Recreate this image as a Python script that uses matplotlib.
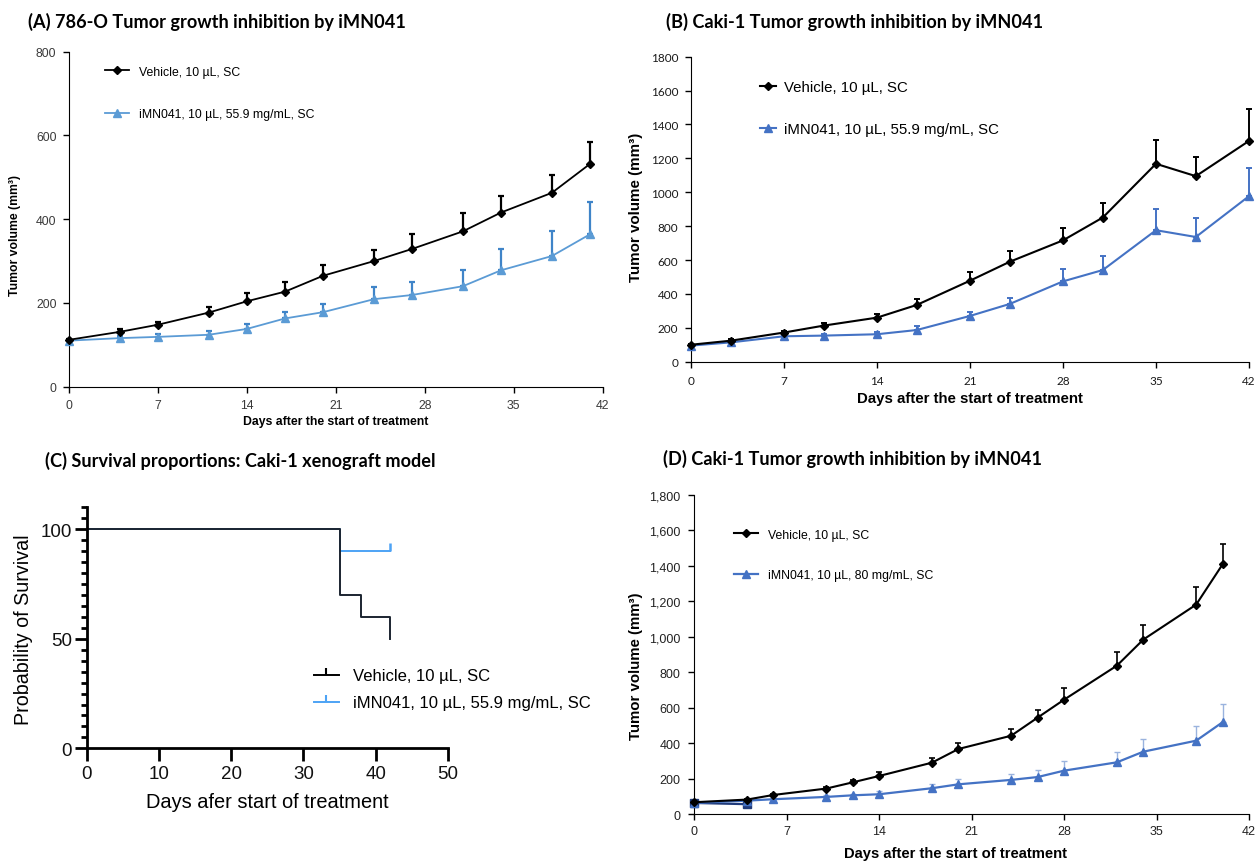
import matplotlib
matplotlib.use('Agg')
import matplotlib.pyplot as plt
import matplotlib.ticker as mticker
from matplotlib.lines import Line2D

# ---------------- data ----------------
# Panel A: 786-O
days_A = [0, 4, 7, 11, 14, 17, 20, 24, 27, 31, 34, 38, 41]
veh_A = [112, 131, 148, 177, 204, 227, 265, 300, 329, 371, 416, 463, 532]
veh_A_err = [2, 7, 7, 14, 19, 22, 26, 27, 36, 43, 40, 43, 52]
imn_A = [110, 116, 119, 124, 138, 163, 178, 209, 219, 240, 278, 312, 364]
imn_A_err = [2, 4, 7, 9, 12, 16, 19, 29, 32, 39, 51, 60, 76]

# Panel B: Caki-1
days_B = [0, 3, 7, 10, 14, 17, 21, 24, 28, 31, 35, 38, 42]
veh_B = [100, 124, 172, 213, 260, 335, 478, 590, 716, 851, 1168, 1095, 1303]
veh_B_err = [5, 8, 10, 14, 22, 36, 49, 61, 71, 88, 138, 111, 191]
imn_B = [95, 114, 150, 154, 162, 187, 270, 341, 474, 541, 776, 736, 977]
imn_B_err = [4, 6, 10, 8, 16, 24, 24, 36, 73, 83, 126, 111, 164]

# Panel C: survival
surv_veh_t = [0, 35, 38, 42]
surv_veh = [100, 70, 60, 50]
surv_imn_t = [0, 35, 42]
surv_imn = [100, 90, 90]

# Panel D: Caki-1, 80 mg/mL
days_D = [0, 4, 6, 10, 12, 14, 18, 20, 24, 26, 28, 32, 34, 38, 40]
veh_D = [68, 83, 109, 145, 180, 216, 291, 368, 443, 545, 646, 838, 985, 1182, 1409]
veh_D_err = [3, 5, 8, 10, 12, 21, 27, 34, 40, 45, 64, 75, 80, 98, 113]
imn_D = [64, 77, 85, 98, 107, 113, 147, 169, 194, 210, 246, 293, 353, 415, 519]
imn_D_err = [3, 4, 6, 8, 10, 20, 22, 30, 33, 38, 53, 57, 72, 85, 103]
extra_D_days = [0, 4]
extra_D = [64, 57]

lab_veh = 'Vehicle, 10 µL, SC'
lab_imn = 'iMN041, 10 µL, 55.9 mg/mL, SC'
lab_imn80 = 'iMN041, 10 µL, 80 mg/mL, SC'
xticks_growth = [0, 7, 14, 21, 28, 35, 42]

# ---------------- figure ----------------
W, H = 1255, 862
fig = plt.figure(figsize=(W / 100, H / 100), dpi=100)

REG = ['Liberation Sans', 'DejaVu Sans']
CAL = ['Lato', 'DejaVu Sans']
TIT = ['Lato', 'DejaVu Sans']
TSIZE = 13.1


def px_axes(l, r, t, b):
    return fig.add_axes([l / W, 1 - b / H, (r - l) / W, (b - t) / H])


def fx(x):
    return x / W


def fy(y):
    return 1 - y / H


def growth(ax, x, y, e, color, ecolor, marker, ms, lw, elw):
    zeros = [0] * len(e)
    ax.errorbar(x, y, yerr=[zeros, e], color=color, ecolor=ecolor,
                marker=marker, ms=ms, lw=lw, elinewidth=elw, capsize=2.5,
                capthick=elw, mfc=color, mec=color, clip_on=False, zorder=3)
    return Line2D([0], [0], color=color, marker=marker, ms=ms, lw=lw,
                  mfc=color, mec=color)


def basic_axes(ax):
    ax.spines['top'].set_visible(False)
    ax.spines['right'].set_visible(False)


# ---------------- Panel A ----------------
axA = px_axes(69, 602.7, 52.7, 387.7)
basic_axes(axA)
axA.set_xlim(0, 42)
axA.set_ylim(0, 800)
axA.set_xticks(xticks_growth)
axA.set_yticks([0, 200, 400, 600, 800])
axA.tick_params(length=4, width=1, pad=5, labelsize=8.8, labelcolor='#3a3a3a')
for t in axA.get_xticklabels() + axA.get_yticklabels():
    t.set_family(REG)
hAi = growth(axA, days_A, imn_A, imn_A_err, '#5B9BD5', '#3F84C8', '^', 6, 1.3, 1.6)
hAv = growth(axA, days_A, veh_A, veh_A_err, 'black', 'black', 'D', 4.5, 1.3, 1.6)
axA.set_xlabel('Days after the start of treatment', fontsize=8.8, fontweight='bold',
               family=REG, va='center')
axA.xaxis.set_label_coords(fx(336), fy(422), transform=fig.transFigure)
axA.set_ylabel('Tumor volume (mm³)', fontsize=8.8, fontweight='bold', family=REG,
               va='center')
axA.yaxis.set_label_coords(fx(15), fy(236), transform=fig.transFigure)
axA.legend([hAv, hAi], [lab_veh, lab_imn], loc='center left', frameon=False,
           bbox_to_anchor=(fx(105), fy(94)), bbox_transform=fig.transFigure,
           borderpad=0, borderaxespad=0, numpoints=1, handlelength=1.95,
           handletextpad=0.8, labelspacing=2.5,
           prop={'family': REG, 'size': 8.8})
fig.text(fx(28), fy(22), '(A) 786-O Tumor growth inhibition by iMN041',
         fontsize=TSIZE, fontweight='bold', family=TIT, ha='left', va='center')

# ---------------- Panel B ----------------
axB = px_axes(690.9, 1249, 57.7, 362.7)
basic_axes(axB)
axB.set_xlim(0, 42)
axB.set_ylim(0, 1800)
axB.set_xticks(xticks_growth)
axB.set_yticks(range(0, 1801, 200))
axB.tick_params(length=4, width=1, pad=5, labelsize=8.5, labelcolor='#1a1a1a')
axB.tick_params(axis='x', pad=5.5)
for t in axB.get_xticklabels() + axB.get_yticklabels():
    t.set_family(CAL)
hBi = growth(axB, days_B, imn_B, imn_B_err, '#4472C4', '#4472C4', '^', 6, 1.5, 1.4)
hBv = growth(axB, days_B, veh_B, veh_B_err, 'black', 'black', 'D', 4.5, 1.5, 1.4)
axB.set_xlabel('Days after the start of treatment', fontsize=10.8, fontweight='bold',
               family=REG, va='center')
axB.xaxis.set_label_coords(fx(970), fy(399), transform=fig.transFigure)
axB.set_ylabel('Tumor volume (mm³)', fontsize=10.9, fontweight='bold', family=REG,
               va='center')
axB.yaxis.set_label_coords(fx(636), fy(207.5), transform=fig.transFigure)
axB.legend([hBv, hBi], [lab_veh, lab_imn], loc='center left', frameon=False,
           bbox_to_anchor=(fx(760), fy(109)), bbox_transform=fig.transFigure,
           borderpad=0, borderaxespad=0, numpoints=1, handlelength=1.05,
           handletextpad=0.55, labelspacing=1.87,
           prop={'family': REG, 'size': 10.8})
fig.text(fx(666), fy(22), '(B) Caki-1 Tumor growth inhibition by iMN041',
         fontsize=TSIZE, fontweight='bold', family=TIT, ha='left', va='center')

# ---------------- Panel C ----------------
axC = px_axes(86.6, 448, 508.4, 749.3)
basic_axes(axC)
axC.spines['left'].set_linewidth(2)
axC.spines['bottom'].set_linewidth(2)
axC.set_xlim(0, 50)
axC.set_ylim(0, 110)
axC.set_xticks([0, 10, 20, 30, 40, 50])
axC.set_yticks([0, 50, 100])
axC.yaxis.set_minor_locator(mticker.MultipleLocator(5))
axC.tick_params(which='major', length=9, width=2, labelsize=13.5, labelcolor='#111111')
axC.tick_params(axis='y', which='major', pad=1.5)
axC.tick_params(axis='x', which='major', pad=3)
axC.tick_params(axis='y', which='minor', length=4.5, width=2)
for t in axC.get_xticklabels() + axC.get_yticklabels():
    t.set_family(REG)
axC.step(surv_imn_t, surv_imn, where='post', color='#4DA3F5', lw=1.4, clip_on=False)
axC.plot([surv_imn_t[-1]], [surv_imn[-1]], marker=2, ms=6, mew=1.8,
         color='#4DA3F5', clip_on=False)
axC.step(surv_veh_t, surv_veh, where='post', color='#1b2430', lw=1.4, clip_on=False)
axC.set_xlabel('Days afer start of treatment', fontsize=14.4, family=REG, va='center')
axC.xaxis.set_label_coords(fx(267.5), fy(802.7), transform=fig.transFigure)
axC.set_ylabel('Probability of Survival', fontsize=14.2, family=REG, va='center')
axC.yaxis.set_label_coords(fx(23.7), fy(630), transform=fig.transFigure)
hC = [Line2D([0], [0], color='black', lw=1.4, marker=2, ms=5, mew=1.5),
      Line2D([0], [0], color='#4DA3F5', lw=1.4, marker=2, ms=5, mew=1.5)]
axC.legend(hC, [lab_veh, lab_imn], loc='center left', frameon=False,
           bbox_to_anchor=(fx(313.6), fy(690.5)), bbox_transform=fig.transFigure,
           borderpad=0, borderaxespad=0, numpoints=1, handlelength=1.5,
           handletextpad=0.85, labelspacing=0.72,
           prop={'family': REG, 'size': 12})
fig.text(fx(45), fy(461), '(C) Survival proportions: Caki-1 xenograft model',
         fontsize=TSIZE, fontweight='bold', family=TIT, ha='left', va='center')

# ---------------- Panel D ----------------
axD = px_axes(694.1, 1249, 496, 815.3)
basic_axes(axD)
axD.set_xlim(0, 42)
axD.set_ylim(0, 1800)
axD.set_xticks(xticks_growth)
axD.set_yticks(range(0, 1801, 200))
axD.yaxis.set_major_formatter(mticker.StrMethodFormatter('{x:,.0f}'))
axD.tick_params(length=4, width=1, pad=6, labelsize=9, labelcolor='#222222')
axD.tick_params(axis='x', pad=4)
for t in axD.get_xticklabels() + axD.get_yticklabels():
    t.set_family(REG)
hDi = growth(axD, days_D, imn_D, imn_D_err, '#4472C4', '#9AB3DE', '^', 6, 1.6, 1.0)
axD.plot(extra_D_days, extra_D, color='#1F3A7A', marker='s', ms=5.5, lw=1.6,
         clip_on=False, zorder=3)
hDv = growth(axD, days_D, veh_D, veh_D_err, 'black', 'black', 'D', 4.5, 1.5, 1.2)
axD.set_xlabel('Days after the start of treatment', fontsize=10.6, fontweight='bold',
               family=REG, va='center')
axD.xaxis.set_label_coords(fx(956), fy(854.3), transform=fig.transFigure)
axD.set_ylabel('Tumor volume (mm³)', fontsize=10.8, fontweight='bold', family=REG,
               va='center')
axD.yaxis.set_label_coords(fx(636), fy(666.7), transform=fig.transFigure)
axD.legend([hDv, hDi], [lab_veh, lab_imn80], loc='center left', frameon=False,
           bbox_to_anchor=(fx(734), fy(556)), bbox_transform=fig.transFigure,
           borderpad=0, borderaxespad=0, numpoints=1, handlelength=2.0,
           handletextpad=0.8, labelspacing=2.35,
           prop={'family': REG, 'size': 8.8})
fig.text(fx(663), fy(459), '(D) Caki-1 Tumor growth inhibition by iMN041',
         fontsize=TSIZE, fontweight='bold', family=TIT, ha='left', va='center')

fig.savefig('out.png', dpi=100)
